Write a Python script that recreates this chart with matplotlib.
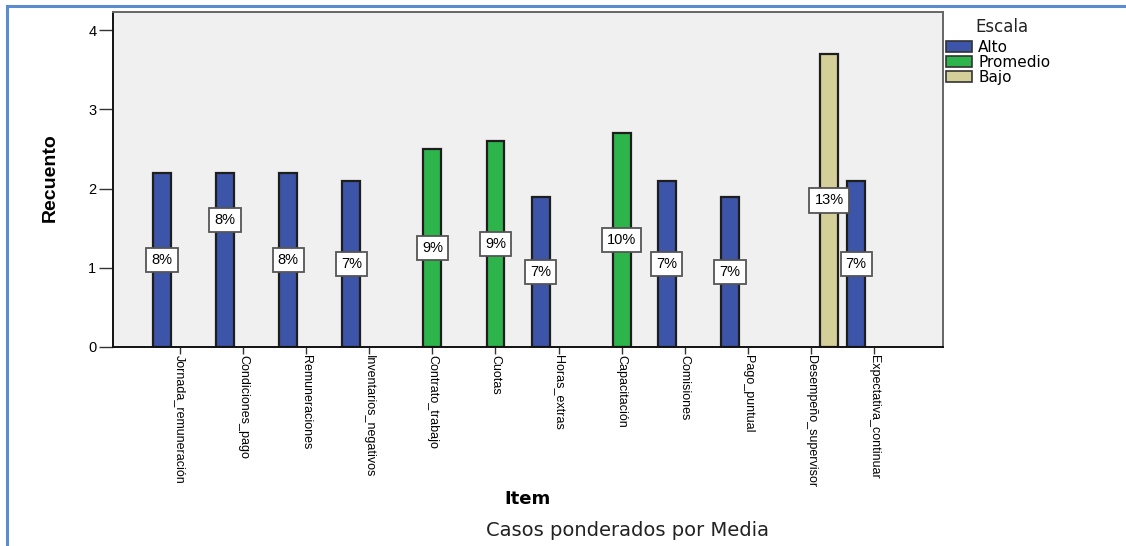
import numpy as np
import matplotlib.pyplot as plt
from matplotlib.patches import Patch
from matplotlib.lines import Line2D

items = ['Jornada_remuneración', 'Condiciones_pago', 'Remuneraciones', 'Inventarios_negativos',
         'Contrato_trabajo', 'Cuotas', 'Horas_extras', 'Capacitación', 'Comisiones',
         'Pago_puntual', 'Desempeño_supervisor', 'Expectativa_continuar']
escala = ['Alto', 'Alto', 'Alto', 'Alto', 'Promedio', 'Promedio', 'Alto', 'Promedio',
          'Alto', 'Alto', 'Bajo', 'Alto']
recuento = [2.2, 2.2, 2.2, 2.1, 2.5, 2.6, 1.9, 2.7, 2.1, 1.9, 3.7, 2.1]
pct_labels = ['8%', '8%', '8%', '7%', '9%', '9%', '7%', '10%', '7%', '7%', '13%', '7%']
label_shift = [0, 0.5, 0, 0, 0, 0, 0, 0, 0, 0, 0, 0]   # SPSS moved one label up to avoid overlap

levels = ['Alto', 'Promedio', 'Bajo']
COLORS = {'Alto': '#3D55A8', 'Promedio': '#2DB54B', 'Bajo': '#D4CF98'}

ARIAL = ['Liberation Sans', 'DejaVu Sans']
W, H = 1126, 546

fig = plt.figure(figsize=(W / 100, H / 100), dpi=100)
ax = fig.add_axes([113 / W, 1 - 347 / H, (943 - 113) / W, (347 - 12) / H])
ax.set_facecolor('#F0F0F0')

bw = 0.285
x = np.arange(len(items))
for i, (lvl, v) in enumerate(zip(escala, recuento)):
    xc = x[i] + (levels.index(lvl) - 1) * bw
    ax.bar(xc, v, width=bw, color=COLORS[lvl], edgecolor='#1E1E1E', linewidth=1.6, zorder=2)
    ax.text(xc, v / 2 + label_shift[i], pct_labels[i], ha='center', va='center',
            fontsize=10.5, family=ARIAL, zorder=4,
            bbox=dict(boxstyle='square,pad=0.35', fc='white', ec='#555555', lw=1.3))

ax.set_xlim(-1.06, len(items) - 1 + 1.09)
ax.set_ylim(0, 4.23)
ax.set_yticks([0, 1, 2, 3, 4])
ax.tick_params(axis='y', length=10, width=1, labelsize=10.5, pad=2, color='#333333')
for t in ax.get_yticklabels():
    t.set_family(ARIAL)
ax.set_xticks(x)
ax.set_xticklabels(items, rotation=270, fontsize=9, family=ARIAL)
ax.tick_params(axis='x', length=5, width=1, pad=1, color='#333333')

for s in ['left', 'bottom']:
    ax.spines[s].set_color('#111111')
    ax.spines[s].set_linewidth(1.4)
for s in ['top', 'right']:
    ax.spines[s].set_color('#666666')
    ax.spines[s].set_linewidth(1.4)

fig.text(50 / W, 1 - 178 / H, 'Recuento', rotation=90, ha='center', va='center',
         fontsize=14, fontweight='bold', family=ARIAL)
fig.text(528 / W, 1 - 499 / H, 'Item', ha='center', va='center', fontsize=13, fontweight='bold')
fig.text(628 / W, 1 - 531 / H, 'Casos ponderados por Media', ha='center', va='center',
         fontsize=14, color='#222222')

# legend: title placed on its own, SPSS leaves a wider gap under it
fig.text(1002 / W, 1 - 27 / H, 'Escala', ha='center', va='center', fontsize=12, color='#222222')
handles = [Patch(facecolor=COLORS[l], edgecolor='#333333', linewidth=1.2) for l in levels]
fig.legend(handles, levels, loc='upper left',
           bbox_to_anchor=(946 / W, 1 - 40 / H), frameon=False, fontsize=11,
           handlelength=1.7, handleheight=0.75,
           labelspacing=0.0, handletextpad=0.4, borderpad=0, borderaxespad=0)

# blue outer frame (top and left only)
fig.add_artist(Line2D([7 / W, 1], [1 - 5.5 / H, 1 - 5.5 / H], color='#5A8CCF', lw=2.2))
fig.add_artist(Line2D([7 / W, 7 / W], [0, 1 - 5.5 / H], color='#5A8CCF', lw=2.2))

plt.savefig('out.png', dpi=100)
plt.close()
